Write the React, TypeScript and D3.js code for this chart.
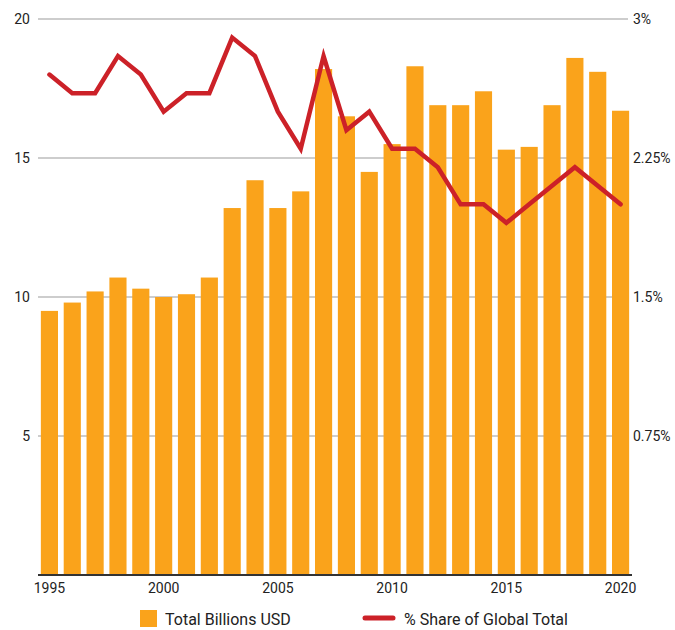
import React from 'react';
import * as d3 from 'd3';

const years = d3.range(1995, 2021);
const totalBillions = [9.5, 9.8, 10.2, 10.7, 10.3, 10.0, 10.1, 10.7, 13.2, 14.2, 13.2, 13.8, 18.2, 16.5, 14.5, 15.5, 18.3, 16.9, 16.9, 17.4, 15.3, 15.4, 16.9, 18.6, 18.1, 16.7];
const sharePct = [2.7, 2.6, 2.6, 2.8, 2.7, 2.5, 2.6, 2.6, 2.9, 2.8, 2.5, 2.3, 2.8, 2.4, 2.5, 2.3, 2.3, 2.2, 2.0, 2.0, 1.9, 2.0, 2.1, 2.2, 2.1, 2.0];
const leftTicks = [5, 10, 15, 20];
const rightTicks = [0.75, 1.5, 2.25, 3];
const rightLabels = ['0.75%', '1.5%', '2.25%', '3%'];
const xTickYears = [1995, 2000, 2005, 2010, 2015, 2020];

const W = 675;
const H = 630;
const FONT = 'Roboto, "Noto Sans", sans-serif';

const App = () => {
    const left = 38, right = 632, top = 19, bottom = 575;

    const x = d3.scaleBand<number>()
        .domain(years)
        .range([left, right])
        .paddingInner(0.25)
        .paddingOuter(0.125);

    const yL = d3.scaleLinear().domain([0, 20]).range([bottom, top]);
    const yR = d3.scaleLinear().domain([0, 3]).range([bottom, top]);

    const line = d3.line<number>()
        .x((d, i) => x(years[i])! + x.bandwidth() / 2)
        .y(d => yR(d));

    return (
        <svg width={W} height={H} style={{ position: 'absolute', left: 0, top: 0, background: '#fff' }}>
            {/* gridlines */}
            {leftTicks.map(t => (
                <line key={t} x1={left} x2={628} y1={yL(t)} y2={yL(t)} stroke="#bdbdbd" strokeWidth={1.5} />
            ))}
            {leftTicks.map(t => (
                <text key={'l' + t} x={30} y={yL(t)} dy="0.35em" textAnchor="end"
                    fontFamily={FONT} fontSize={14} fill="#222">{t}</text>
            ))}
            {rightTicks.map((t, i) => (
                <text key={'r' + t} x={633} y={yR(t)} dy="0.35em" textAnchor="start"
                    fontFamily={FONT} fontSize={14} fill="#222">{rightLabels[i]}</text>
            ))}

            {/* bars */}
            {years.map((yr, i) => (
                <rect key={yr} x={x(yr)} y={yL(totalBillions[i])} width={x.bandwidth()}
                    height={bottom - yL(totalBillions[i])} fill="#faa31b" />
            ))}

            {/* baseline */}
            <line x1={left} x2={right} y1={bottom} y2={bottom} stroke="#333" strokeWidth={2} />
            {xTickYears.map(yr => (
                <text key={yr} x={x(yr)! + x.bandwidth() / 2} y={588} dy="0.35em" textAnchor="middle"
                    fontFamily={FONT} fontSize={14} fill="#222">{yr}</text>
            ))}

            {/* share line */}
            <path d={line(sharePct) || ''} fill="none" stroke="#cc2128" strokeWidth={4.5}
                strokeLinejoin="miter" strokeLinecap="round" />

            {/* legend */}
            <rect x={140} y={610} width={17} height={17} fill="#faa31b" />
            <text x={165} y={619} dy="0.35em" fontFamily={FONT} fontSize={16} fill="#222">Total Billions USD</text>
            <line x1={365} x2={393} y1={618} y2={618} stroke="#cc2128" strokeWidth={5} strokeLinecap="round" />
            <text x={404} y={619} dy="0.35em" fontFamily={FONT} fontSize={16} fill="#222">% Share of Global Total</text>
        </svg>
    );
};

export default App;
